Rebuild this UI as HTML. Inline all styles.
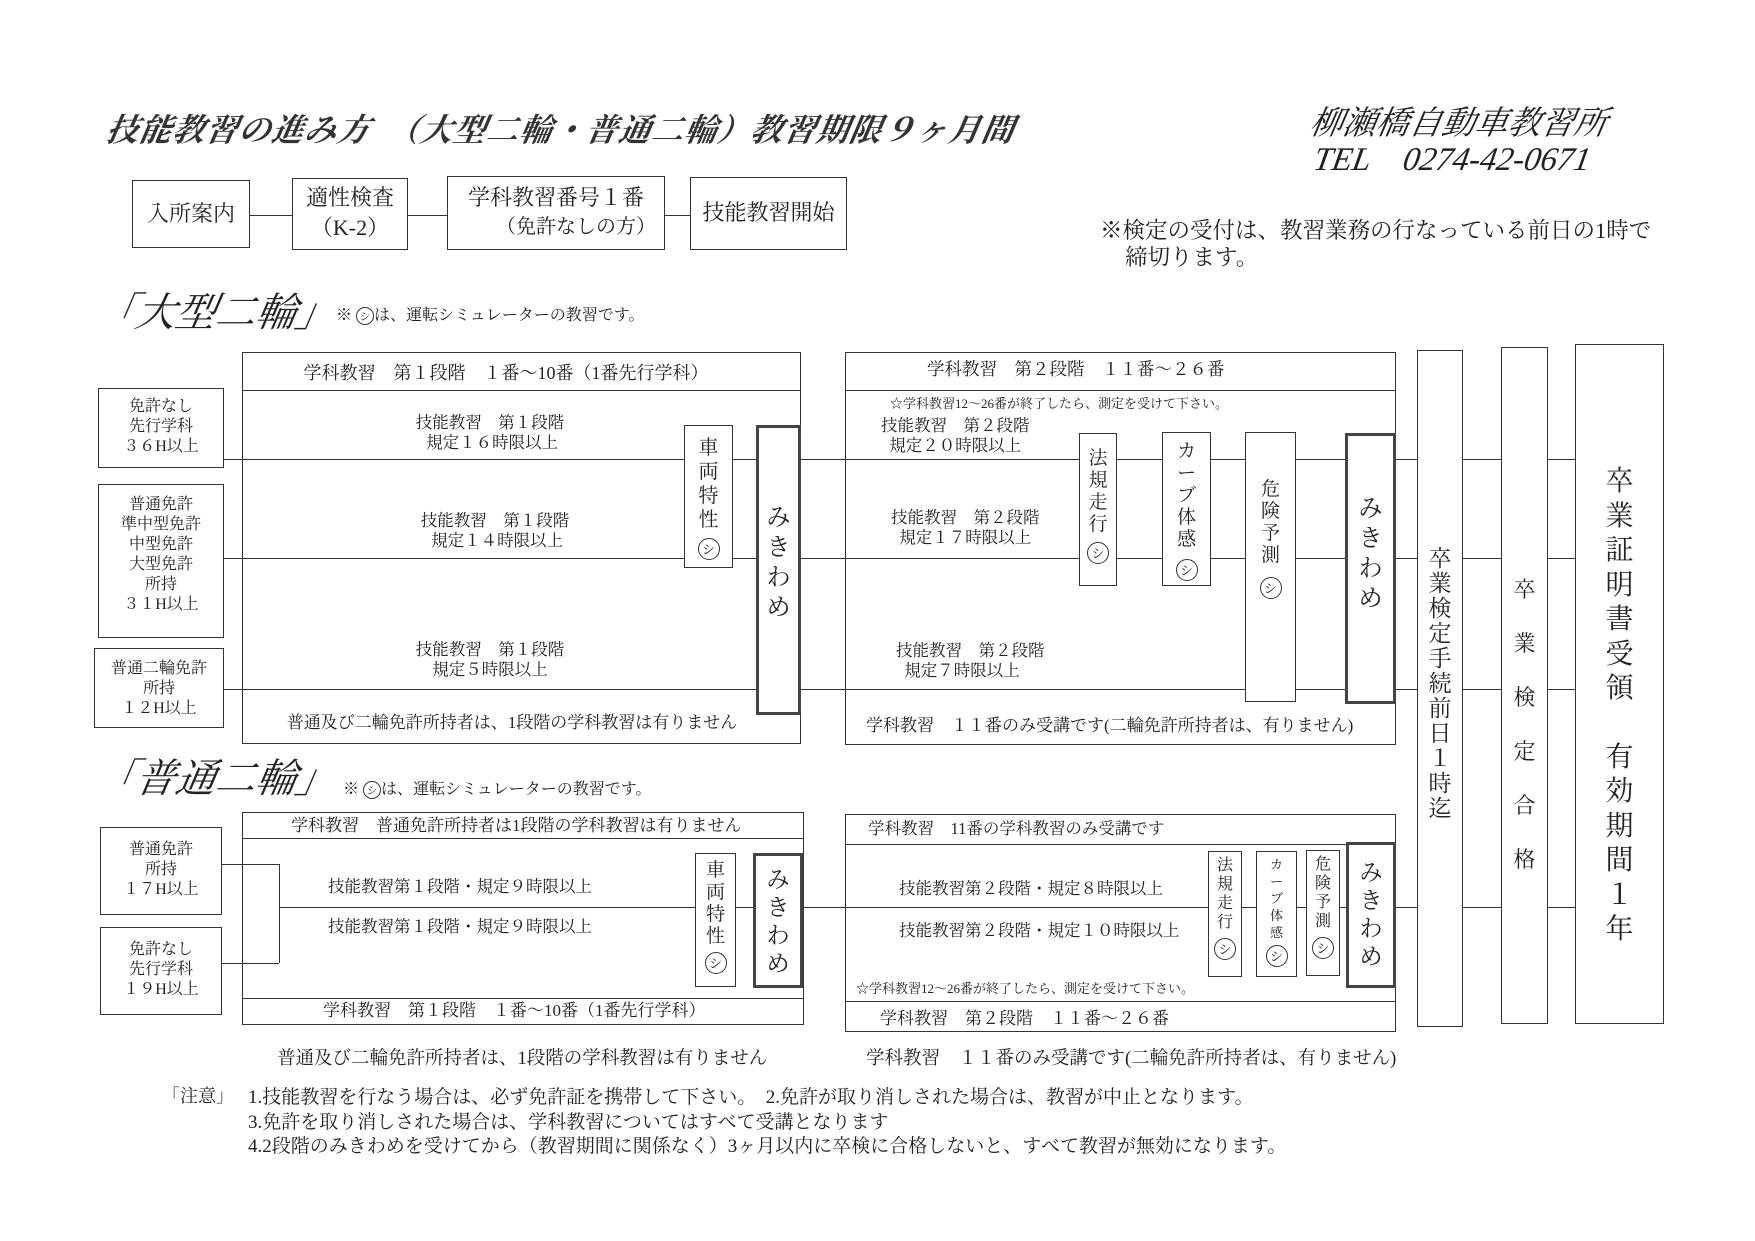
<!DOCTYPE html>
<html><head><meta charset="utf-8">
<style>
body{margin:0;width:1755px;height:1241px;background:#fff;position:relative;overflow:hidden;font-family:"Liberation Serif","Noto Serif CJK JP","Noto Serif CJK SC",serif;color:#222}
.a{position:absolute;white-space:nowrap;line-height:1}
.b{position:absolute;border:1.5px solid #333;background:#fff;box-sizing:border-box}
.t{border:3px solid #444}
.h{position:absolute;height:0;border-top:1.5px solid #333}
.v{position:absolute;width:0;border-left:1.5px solid #333}
.vt{display:flex;flex-direction:column;align-items:center;justify-content:flex-start}
.c{display:inline-block;width:22px;height:22px;border:1.5px solid #333;border-radius:50%;font-size:13px;line-height:22px;text-align:center;box-sizing:border-box}
.ct{text-align:center}
</style></head><body>
<div class="a" style="left:107px;top:114px;font-size:32px;font-weight:bold;font-style:italic;transform:skewX(-10deg);letter-spacing:1px;color:#333">技能教習の進み方　（大型二輪・普通二輪）教習期限９ヶ月間</div>
<div class="a" style="left:1310px;top:108px;font-size:33px;font-style:italic;transform:skewX(-10deg)">柳瀬橋自動車教習所</div>
<div class="a" style="left:1314px;top:144px;font-size:33px;font-style:italic;transform:skewX(-10deg)">TEL　0274-42-0671</div>
<div class="a" style="left:1100px;top:220px;font-size:22.5px">※検定の受付は、教習業務の行なっている前日の1時で</div>
<div class="a" style="left:1125px;top:247px;font-size:22.5px">締切ります。</div>

<!-- top flow -->
<div class="h" style="left:250px;width:440px;top:215px"></div>
<div class="b" style="left:132px;top:180px;width:118px;height:68px"><div class="a" style="left:0;width:100%;top:22px;font-size:22px;text-align:center">入所案内</div></div>
<div class="b" style="left:292px;top:178px;width:116px;height:72px"><div class="a" style="left:0;width:100%;top:8px;font-size:22px;text-align:center">適性検査</div><div class="a" style="left:0;width:100%;top:38px;font-size:22px;text-align:center">（K-2）</div></div>
<div class="b" style="left:447px;top:176px;width:218px;height:74px"><div class="a" style="left:0;width:100%;top:10px;font-size:22px;text-align:center">学科教習番号１番</div><div class="a" style="left:20px;width:100%;top:40px;font-size:20px;text-align:center">（免許なしの方）</div></div>
<div class="b" style="left:690px;top:177px;width:157px;height:73px"><div class="a" style="left:0;width:100%;top:24px;font-size:22px;text-align:center">技能教習開始</div></div>

<!-- 大型二輪 -->
<div class="a" style="left:96px;top:293px;font-size:40px;font-style:italic;transform:skewX(-10deg)">「大型二輪」</div>
<div class="a" style="left:336px;top:307px;font-size:16px">※ <span class="c" style="width:18px;height:18px;line-height:18px;font-size:11px">シ</span>は、運転シミュレーターの教習です。</div>

<!-- long lines -->
<div class="h" style="left:224px;width:1353px;top:459px"></div>
<div class="h" style="left:224px;width:1353px;top:558px"></div>
<div class="h" style="left:224px;width:1353px;top:689px"></div>
<div class="h" style="left:279px;width:1298px;top:907px"></div>

<!-- stage1 box frame -->
<div class="b" style="left:242px;top:352px;width:559px;height:392px;background:transparent"></div>
<div class="h" style="left:242px;width:559px;top:390px"></div>
<div class="a ct" style="left:242px;width:528px;top:364px;font-size:18px">学科教習　第１段階　１番～10番（1番先行学科）</div>
<div class="a ct" style="left:390px;width:200px;top:415px;font-size:16.5px">技能教習　第１段階<br><span style="line-height:22px">&nbsp;規定１６時限以上</span></div>
<div class="a ct" style="left:395px;width:200px;top:513px;font-size:16.5px">技能教習　第１段階<br><span style="line-height:22px">&nbsp;規定１４時限以上</span></div>
<div class="a ct" style="left:390px;width:200px;top:642px;font-size:16.5px">技能教習　第１段階<br><span style="line-height:22px">規定５時限以上</span></div>
<div class="a ct" style="left:242px;width:540px;top:714px;font-size:17px">普通及び二輪免許所持者は、1段階の学科教習は有りません</div>

<div class="b" style="left:98px;top:388px;width:126px;height:80px"><div class="a ct" style="left:0;width:100%;top:8px;font-size:16px;line-height:20px">免許なし<br>先行学科<br>３６H以上</div></div>
<div class="b" style="left:98px;top:484px;width:126px;height:154px"><div class="a ct" style="left:0;width:100%;top:10px;font-size:16px;line-height:20px">普通免許<br>準中型免許<br>中型免許<br>大型免許<br>所持<br>３１H以上</div></div>
<div class="b" style="left:94px;top:648px;width:130px;height:80px"><div class="a ct" style="left:0;width:100%;top:10px;font-size:16px;line-height:20px">普通二輪免許<br>所持<br>１２H以上</div></div>

<div class="b vt" style="left:684px;top:425px;width:49px;height:143px;padding-top:10px;font-size:20px;line-height:24px">車<br>両<br>特<br>性<div style="height:6px"></div><span class="c">シ</span></div>
<div class="b t vt" style="left:756px;top:425px;width:45px;height:290px;padding-top:75px;font-size:24px;line-height:30px">み<br>き<br>わ<br>め</div>

<!-- stage2 -->
<div class="b" style="left:845px;top:352px;width:551px;height:393px;background:transparent"></div>
<div class="h" style="left:845px;width:551px;top:390px"></div>
<div class="a" style="left:927px;top:361px;font-size:17.5px">学科教習　第２段階　１１番～２６番</div>
<div class="a" style="left:890px;top:397px;font-size:13px">☆学科教習12～26番が終了したら、測定を受けて下さい。</div>
<div class="a" style="left:881px;top:416px;font-size:16.5px;line-height:20px">技能教習　第２段階<br>&nbsp;&nbsp;規定２０時限以上</div>
<div class="a" style="left:891px;top:508px;font-size:16.5px;line-height:20px">技能教習　第２段階<br>&nbsp;&nbsp;規定１７時限以上</div>
<div class="a" style="left:896px;top:641px;font-size:16.5px;line-height:20px">技能教習　第２段階<br>&nbsp;&nbsp;規定７時限以上</div>
<div class="a" style="left:866px;top:717px;font-size:17px">学科教習　１１番のみ受講です(二輪免許所持者は、有りません)</div>

<div class="b vt" style="left:1079px;top:433px;width:38px;height:153px;padding-top:14px;font-size:19px;line-height:22px">法<br>規<br>走<br>行<div style="height:6px"></div><span class="c">シ</span></div>
<div class="b vt" style="left:1162px;top:432px;width:49px;height:154px;padding-top:8px;font-size:19px;line-height:22px">カ<br>ー<br>ブ<br>体<br>感<div style="height:8px"></div><span class="c">シ</span></div>
<div class="b vt" style="left:1245px;top:432px;width:51px;height:270px;padding-top:46px;font-size:19px;line-height:22px">危<br>険<br>予<br>測<div style="height:10px"></div><span class="c">シ</span></div>
<div class="b t vt" style="left:1345px;top:433px;width:51px;height:271px;padding-top:58px;font-size:24px;line-height:30px">み<br>き<br>わ<br>め</div>

<!-- right columns -->
<div class="b vt" style="left:1417px;top:350px;width:46px;height:677px;padding-top:195px;font-size:23px;line-height:25px">卒<br>業<br>検<br>定<br>手<br>続<br>前<br>日<br>１<br>時<br>迄</div>
<div class="b vt" style="left:1501px;top:347px;width:47px;height:677px;padding-top:215px;font-size:22px;line-height:54px">卒<br>業<br>検<br>定<br>合<br>格</div>
<div class="b vt" style="left:1575px;top:344px;width:89px;height:680px;padding-top:120px;font-size:28px;line-height:34.5px">卒<br>業<br>証<br>明<br>書<br>受<br>領<div style="height:34px"></div>有<br>効<br>期<br>間<br>１<br>年</div>

<!-- 普通二輪 -->
<div class="a" style="left:96px;top:759px;font-size:40px;font-style:italic;transform:skewX(-10deg)">「普通二輪」</div>
<div class="a" style="left:343px;top:781px;font-size:16px">※ <span class="c" style="width:18px;height:18px;line-height:18px;font-size:11px">シ</span>は、運転シミュレーターの教習です。</div>

<div class="b" style="left:242px;top:812px;width:562px;height:213px;background:transparent"></div>
<div class="h" style="left:242px;width:562px;top:838px"></div>
<div class="h" style="left:242px;width:562px;top:998px"></div>
<div class="a" style="left:291px;top:817px;font-size:17px">学科教習　普通免許所持者は1段階の学科教習は有りません</div>
<div class="a" style="left:328px;top:879px;font-size:16.5px">技能教習第１段階・規定９時限以上</div>
<div class="a" style="left:328px;top:919px;font-size:16.5px">技能教習第１段階・規定９時限以上</div>
<div class="a" style="left:323px;top:1002px;font-size:17px">学科教習　第１段階　１番～10番（1番先行学科）</div>
<div class="a" style="left:277px;top:1050px;font-size:18.5px">普通及び二輪免許所持者は、1段階の学科教習は有りません</div>

<div class="h" style="left:222px;width:57px;top:864px"></div>
<div class="h" style="left:222px;width:57px;top:963px"></div>
<div class="v" style="left:279px;top:864px;height:99px"></div>
<div class="b" style="left:100px;top:827px;width:122px;height:88px"><div class="a ct" style="left:0;width:100%;top:12px;font-size:16px;line-height:20px">普通免許<br>所持<br>１７H以上</div></div>
<div class="b" style="left:100px;top:927px;width:122px;height:88px"><div class="a ct" style="left:0;width:100%;top:12px;font-size:16px;line-height:20px">免許なし<br>先行学科<br>１９H以上</div></div>

<div class="b vt" style="left:695px;top:853px;width:41px;height:134px;padding-top:6px;font-size:19px;line-height:22px">車<br>両<br>特<br>性<div style="height:4px"></div><span class="c">シ</span></div>
<div class="b t vt" style="left:753px;top:853px;width:50px;height:135px;padding-top:10px;font-size:23px;line-height:28px">み<br>き<br>わ<br>め</div>

<div class="b" style="left:845px;top:814px;width:551px;height:218px;background:transparent"></div>
<div class="h" style="left:845px;width:551px;top:844px"></div>
<div class="h" style="left:845px;width:551px;top:1001px"></div>
<div class="a" style="left:868px;top:821px;font-size:16.5px">学科教習　11番の学科教習のみ受講です</div>
<div class="a" style="left:899px;top:881px;font-size:16.5px">技能教習第２段階・規定８時限以上</div>
<div class="a" style="left:899px;top:923px;font-size:16.5px">技能教習第２段階・規定１０時限以上</div>
<div class="a" style="left:856px;top:982px;font-size:13px">☆学科教習12～26番が終了したら、測定を受けて下さい。</div>
<div class="a" style="left:880px;top:1010px;font-size:17px">学科教習　第２段階　１１番～２６番</div>
<div class="a" style="left:866px;top:1050px;font-size:18.5px">学科教習　１１番のみ受講です(二輪免許所持者は、有りません)</div>

<div class="b vt" style="left:1208px;top:851px;width:34px;height:126px;padding-top:4px;font-size:16px;line-height:19px">法<br>規<br>走<br>行<div style="height:6px"></div><span class="c">シ</span></div>
<div class="b vt" style="left:1256px;top:851px;width:41px;height:126px;padding-top:4px;font-size:13px;line-height:17px">カ<br>ー<br>ブ<br>体<br>感<div style="height:4px"></div><span class="c">シ</span></div>
<div class="b vt" style="left:1306px;top:850px;width:34px;height:126px;padding-top:4px;font-size:16px;line-height:19px">危<br>険<br>予<br>測<div style="height:6px"></div><span class="c">シ</span></div>
<div class="b t vt" style="left:1346px;top:842px;width:50px;height:146px;padding-top:14px;font-size:23px;line-height:28px">み<br>き<br>わ<br>め</div>

<!-- notes -->
<div class="a" style="left:162px;top:1087px;font-size:18px">「注意」</div>
<div class="a" style="left:248px;top:1086px;font-size:19px;line-height:24.5px">1.技能教習を行なう場合は、必ず免許証を携帯して下さい。　2.免許が取り消しされた場合は、教習が中止となります。<br>3.免許を取り消しされた場合は、学科教習についてはすべて受講となります<br>4.2段階のみきわめを受けてから（教習期間に関係なく）3ヶ月以内に卒検に合格しないと、すべて教習が無効になります。</div>
</body></html>
